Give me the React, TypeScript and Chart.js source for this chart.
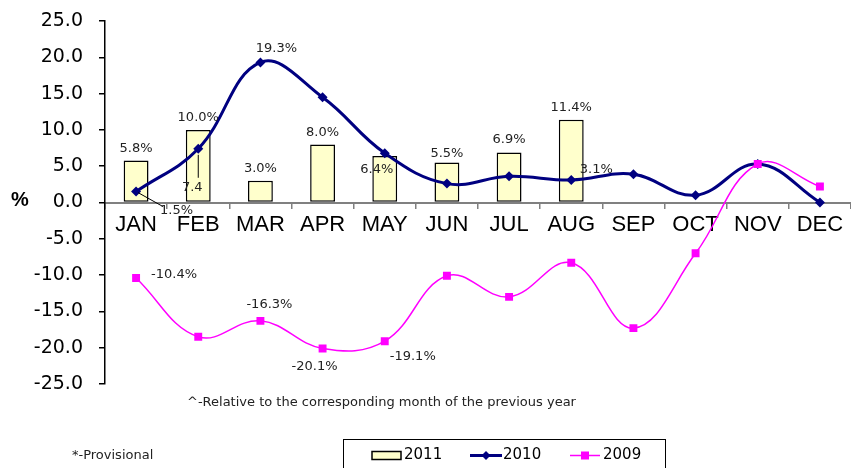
import React, { useEffect, useRef } from "react";
import { Chart, registerables } from "chart.js";

Chart.register(...registerables);

const months = ["JAN", "FEB", "MAR", "APR", "MAY", "JUN", "JUL", "AUG", "SEP", "OCT", "NOV", "DEC"];
const seriesNames = ["2011", "2010", "2009"];
const values2011 = [5.8, 10.0, 3.0, 8.0, 6.4, 5.5, 6.9, 11.4, null, null, null, null];
const values2010 = [1.5, 7.4, 19.3, 14.5, 6.8, 2.6, 3.6, 3.1, 3.9, 1.0, 5.3, 0.0];
const values2009 = [-10.4, -18.5, -16.3, -20.1, -19.1, -10.1, -13.0, -8.3, -17.3, -7.0, 5.3, 2.2];
const yMin = -25;
const yMax = 25;
const yStep = 5;
const axisTitle = "%";
const noteRelative = "^-Relative to the corresponding month of the previous year";
const noteProvisional = "*-Provisional";

const ARIAL = '"Liberation Sans", Arial, sans-serif';
const DEJAVU = '"DejaVu Sans", sans-serif';

// which values get a data label, and where it sits relative to its mark
type LabelSpec = { ds: number; i: number; dx: number; dy: number; pct?: boolean; leader?: number[] };
const labelSpecs: LabelSpec[] = [
  { ds: 0, i: 0, dx: 0, dy: -12 },
  { ds: 0, i: 1, dx: 0, dy: -12.5 },
  { ds: 0, i: 2, dx: 0, dy: -12 },
  { ds: 0, i: 3, dx: 0, dy: -12 },
  { ds: 0, i: 4, dx: -8, dy: 13.5 },
  { ds: 0, i: 5, dx: 0, dy: -8.5 },
  { ds: 0, i: 6, dx: 0, dy: -12.5 },
  { ds: 0, i: 7, dx: 0, dy: -12.5 },
  { ds: 1, i: 0, dx: 40.5, dy: 18.6, leader: [2, 1, 27, 15] },
  { ds: 1, i: 1, dx: -6, dy: 38.4, pct: false, leader: [0, 6, 0, 29] },
  { ds: 1, i: 2, dx: 16, dy: -14 },
  { ds: 1, i: 7, dx: 25, dy: -10 },
  { ds: 2, i: 0, dx: 38, dy: -3 },
  { ds: 2, i: 2, dx: 9, dy: -16 },
  { ds: 2, i: 3, dx: -8, dy: 18 },
  { ds: 2, i: 4, dx: 28, dy: 15 },
];

const annotatePlugin = {
  id: "annotate",
  afterDatasetsDraw(chart: any) {
    const ctx = chart.ctx;
    ctx.save();
    ctx.font = `13px ${DEJAVU}`;
    ctx.fillStyle = "#222";
    ctx.strokeStyle = "#000";
    ctx.lineWidth = 1;
    ctx.textAlign = "center";
    ctx.textBaseline = "middle";
    for (const s of labelSpecs) {
      const el = chart.getDatasetMeta(s.ds).data[s.i];
      const v = chart.data.datasets[s.ds].data[s.i];
      if (!el || v == null) continue;
      if (s.leader) {
        ctx.beginPath();
        ctx.moveTo(el.x + s.leader[0], el.y + s.leader[1]);
        ctx.lineTo(el.x + s.leader[2], el.y + s.leader[3]);
        ctx.stroke();
      }
      const text = s.pct === false ? Number(v).toFixed(1) : Number(v).toFixed(1) + "%";
      ctx.fillText(text, el.x + s.dx, el.y + s.dy);
    }
    ctx.restore();
  },
  afterDraw(chart: any) {
    const ctx = chart.ctx;
    ctx.save();
    // axis title
    ctx.font = `bold 20px ${ARIAL}`;
    ctx.fillStyle = "#000";
    ctx.textAlign = "center";
    ctx.textBaseline = "middle";
    ctx.fillText(axisTitle, 20, 200);
    // notes
    ctx.font = `13px ${DEJAVU}`;
    ctx.fillStyle = "#222";
    ctx.textAlign = "left";
    ctx.fillText(noteRelative, 187, 403);
    ctx.fillText(noteProvisional, 72, 455.5);
    // legend box
    ctx.strokeStyle = "#000";
    ctx.lineWidth = 1;
    ctx.strokeRect(343.5, 439.5, 322, 40);
    const ds = chart.data.datasets;
    const ly = 455.5;
    ctx.font = `15px ${DEJAVU}`;
    // 2011 swatch
    ctx.fillStyle = ds[0].backgroundColor;
    ctx.fillRect(372, 451.5, 29, 8);
    ctx.lineWidth = 1.5;
    ctx.strokeStyle = "#000";
    ctx.strokeRect(372, 451.5, 29, 8);
    ctx.fillStyle = "#000";
    ctx.fillText(ds[0].label, 404, ly);
    // 2010
    ctx.strokeStyle = ds[1].borderColor;
    ctx.lineWidth = 3;
    ctx.beginPath();
    ctx.moveTo(470, ly);
    ctx.lineTo(502, ly);
    ctx.stroke();
    ctx.fillStyle = ds[1].borderColor;
    ctx.beginPath();
    ctx.moveTo(486, ly - 4.5);
    ctx.lineTo(490.5, ly);
    ctx.lineTo(486, ly + 4.5);
    ctx.lineTo(481.5, ly);
    ctx.closePath();
    ctx.fill();
    ctx.fillStyle = "#000";
    ctx.fillText(ds[1].label, 503, ly);
    // 2009
    ctx.strokeStyle = ds[2].borderColor;
    ctx.lineWidth = 1.5;
    ctx.beginPath();
    ctx.moveTo(570, ly);
    ctx.lineTo(600, ly);
    ctx.stroke();
    ctx.fillStyle = ds[2].borderColor;
    ctx.fillRect(581, ly - 4, 8, 8);
    ctx.fillStyle = "#000";
    ctx.fillText(ds[2].label, 603, ly);
    ctx.restore();
  },
};

export default function App() {
  const ref = useRef<HTMLCanvasElement | null>(null);
  useEffect(() => {
    document.body.style.margin = "0";
    const canvas = ref.current;
    if (!canvas) return;
    const chart = new Chart(canvas, {
      type: "bar",
      data: {
        labels: months,
        datasets: [
          {
            type: "bar",
            label: seriesNames[0],
            data: values2011 as any,
            backgroundColor: "#FFFFCC",
            borderColor: "#000",
            borderWidth: 1.5,
            borderSkipped: false,
            barPercentage: 0.4,
            categoryPercentage: 1,
            order: 3,
          },
          {
            type: "line",
            label: seriesNames[1],
            data: values2010,
            borderColor: "#000080",
            backgroundColor: "#000080",
            borderWidth: 3,
            pointStyle: "rectRot",
            pointRadius: 5,
            pointBorderWidth: 0,
            tension: 0.4,
            order: 2,
          } as any,
          {
            type: "line",
            label: seriesNames[2],
            data: values2009,
            borderColor: "#FF00FF",
            backgroundColor: "#FF00FF",
            borderWidth: 1.5,
            pointStyle: "rect",
            pointRadius: 5.6,
            pointBorderWidth: 0,
            tension: 0.4,
            order: 1,
          } as any,
        ],
      },
      options: {
        animation: false,
        responsive: true,
        maintainAspectRatio: false,
        layout: { autoPadding: false, padding: { left: 0, right: 0, top: 21, bottom: 84 } },
        plugins: { legend: { display: false }, tooltip: { enabled: false } },
        scales: {
          x: {
            position: { y: 0 } as any,
            offset: true,
            afterFit: (s: any) => {
              s.paddingLeft = 0;
              s.paddingRight = 0;
              s.paddingTop = 0;
              s.paddingBottom = 0;
            },
            grid: { drawOnChartArea: false, drawTicks: true, tickLength: 5, color: "#808080", lineWidth: 1.5, offset: true },
            border: { color: "#808080", width: 2 },
            ticks: { font: { family: ARIAL, size: 22 }, color: "#000", padding: 4, maxRotation: 0, autoSkip: false },
          },
          y: {
            min: yMin,
            max: yMax,
            afterFit: (s: any) => {
              s.width = 105;
              s.paddingTop = 0;
              s.paddingBottom = 0;
              s.paddingLeft = 0;
              s.paddingRight = 0;
            },
            grid: { drawOnChartArea: false, drawTicks: true, tickLength: 6, color: "#000", lineWidth: 1.5 },
            border: { color: "#000", width: 1.5 },
            ticks: {
              stepSize: yStep,
              font: { family: DEJAVU, size: 19 },
              color: "#000",
              padding: 16,
              callback: (v: any) => Number(v).toFixed(1),
            },
          },
        },
      },
      plugins: [annotatePlugin],
    });
    return () => chart.destroy();
  }, []);
  return (
    <div style={{ position: "absolute", left: 0, top: 0, width: 851, height: 468 }}>
      <canvas ref={ref} />
    </div>
  );
}
